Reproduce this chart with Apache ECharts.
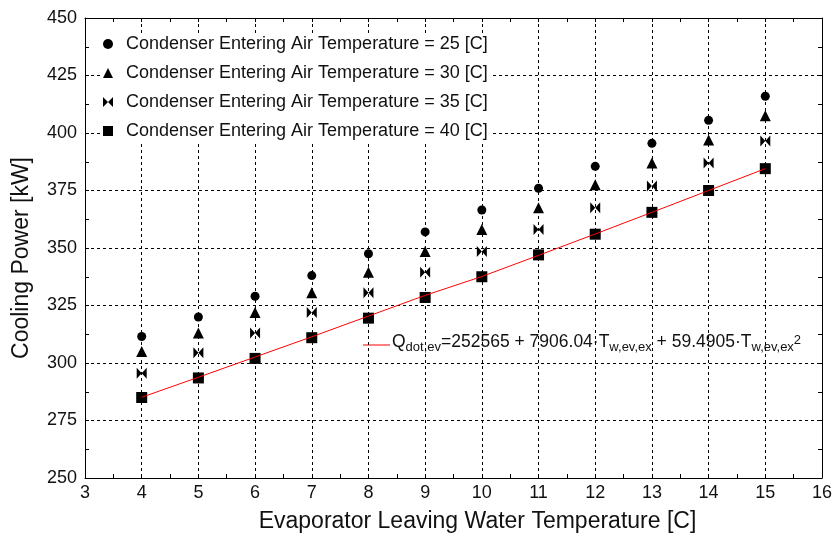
<!DOCTYPE html>
<html>
<head>
<meta charset="utf-8">
<script src="https://cdn.jsdelivr.net/npm/echarts@6/dist/echarts.min.js"></script>
<style>
  html, body { margin: 0; padding: 0; background: #fff; }
  #chart { width: 835px; height: 539px; }
</style>
</head>
<body>
<div id="chart"></div>
<script>
// evaporator leaving water temperature [C]
const temps = [4, 5, 6, 7, 8, 9, 10, 11, 12, 13, 14, 15];
// cooling power [kW] per condenser entering air temperature
const cond25 = [311.5, 320, 329, 338, 347.5, 357, 366.5, 376, 385.5, 395.5, 405.5, 416];
const cond30 = [305, 313, 322, 330.5, 339.5, 348.5, 358, 367.5, 377.5, 387, 397, 407.5];
const cond35 = [295.5, 304.5, 313, 322, 330.5, 339.5, 348.5, 358, 367.5, 377, 387, 396.5];
const cond40 = [285, 293.5, 302, 311, 319.5, 328.5, 337.5, 347, 356, 365.5, 375, 384.5];
// red fit curve
const fitLine = [285.1, 293.8, 302.6, 311.4, 320.4, 329.4, 337.6, 346.8, 356.1, 365.5, 375.0, 384.5];

const names = [
  "Condenser Entering Air Temperature = 25 [C]",
  "Condenser Entering Air Temperature = 30 [C]",
  "Condenser Entering Air Temperature = 35 [C]",
  "Condenser Entering Air Temperature = 40 [C]"
];

const bowtie = "path://M0,0 L0,10 L5,5 Z M10,0 L10,10 L5,5 Z";
const font = "Liberation Sans, Arial, sans-serif";
const ink = "#111";

function pairs(ys) {
  return temps.map((t, i) => [t, ys[i]]);
}

function scatter(name, ys, symbol, size) {
  return {
    name: name,
    type: "scatter",
    data: pairs(ys),
    symbol: symbol,
    symbolSize: size,
    itemStyle: { color: "#000", opacity: 1 },
    z: 3
  };
}

const dashed = { show: true, lineStyle: { color: "#000", type: [3, 3], width: 1 } };
const frameAxis = {
  axisLine: { show: true, lineStyle: { color: "#000", width: 1 } },
  axisTick: { show: true, inside: true, length: 4, lineStyle: { color: "#000" } },
  minorTick: { show: true, splitNumber: 2, length: 4, lineStyle: { color: "#000" } }
};

const myChart = echarts.init(document.getElementById("chart"));
myChart.setOption({
  animation: false,
  grid: { left: 85, right: 8, top: 18, bottom: 61 },
  legend: {
    data: names,
    orient: "vertical",
    left: 103,
    top: 34,
    itemWidth: 10,
    itemHeight: 10,
    itemGap: 11,
    backgroundColor: "#fff",
    padding: [1, 4, 1, 0],
    itemStyle: { opacity: 1 },
    textStyle: { fontFamily: font, fontSize: 18, color: ink, padding: [0, 0, 0, 8] }
  },
  xAxis: [
    Object.assign({
      type: "value",
      min: 3,
      max: 16,
      interval: 1,
      name: "Evaporator Leaving Water Temperature [C]",
      nameLocation: "middle",
      nameGap: 32,
      nameTextStyle: { fontFamily: font, fontSize: 23, color: ink, padding: [0, 0, 0, 48] },
      axisLabel: { margin: 6, fontFamily: font, fontSize: 18, color: ink },
      splitLine: dashed
    }, frameAxis),
    Object.assign({
      type: "value",
      position: "top",
      min: 3,
      max: 16,
      interval: 1,
      axisLabel: { show: false },
      splitLine: { show: false }
    }, frameAxis)
  ],
  yAxis: [
    Object.assign({
      type: "value",
      min: 250,
      max: 450,
      interval: 25,
      name: "Cooling Power [kW]",
      nameLocation: "middle",
      nameGap: 52,
      nameTextStyle: { fontFamily: font, fontSize: 23, color: ink, padding: [0, 20, 0, 0] },
      axisLabel: { margin: 8, fontFamily: font, fontSize: 18, color: ink },
      splitLine: dashed
    }, frameAxis),
    Object.assign({
      type: "value",
      position: "right",
      min: 250,
      max: 450,
      interval: 25,
      axisLabel: { show: false },
      splitLine: { show: false }
    }, frameAxis)
  ],
  series: [
    scatter(names[0], cond25, "circle", 9),
    scatter(names[1], cond30, "triangle", 11),
    scatter(names[2], cond35, bowtie, [10, 11]),
    scatter(names[3], cond40, "rect", 11),
    {
      name: "fit",
      type: "line",
      data: pairs(fitLine),
      symbol: "none",
      smooth: false,
      lineStyle: { color: "#ff0000", width: 1 },
      z: 4
    }
  ],
  graphic: [
    {
      type: "line",
      shape: { x1: 363, y1: 345, x2: 390, y2: 345 },
      style: { stroke: "#ff0000", lineWidth: 1 }
    },
    {
      type: "text",
      left: 392,
      top: 333,
      style: {
        text: "Q{sub|dot,ev}=252565 + 7906.04·T{sub|w,ev,ex} + 59.4905·T{sub|w,ev,ex}{sup|2}",
        font: "17.5px " + font,
        fill: ink,
        rich: {
          sub: { fontSize: 13, fontFamily: font, padding: [10, 0, 0, 0], fill: ink },
          sup: { fontSize: 13, fontFamily: font, padding: [0, 0, 3, 0], fill: ink }
        }
      }
    }
  ]
});
</script>
</body>
</html>
